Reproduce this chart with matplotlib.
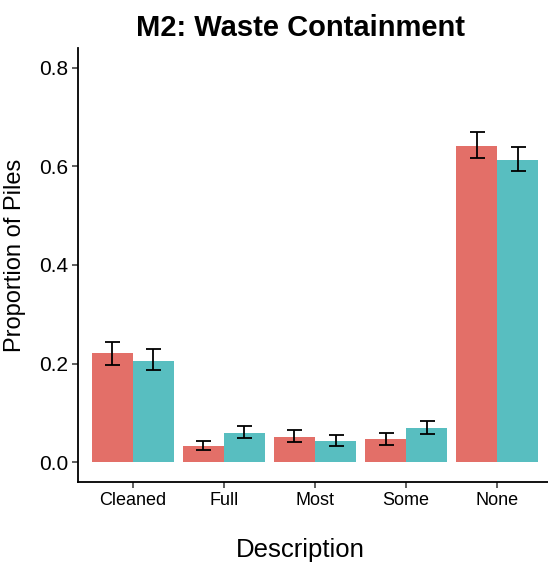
import matplotlib
matplotlib.use('Agg')
import matplotlib.pyplot as plt
import numpy as np

plt.rcParams['font.family'] = ['Liberation Sans', 'DejaVu Sans']

categories = ['Cleaned', 'Full', 'Most', 'Some', 'None']
group_a = [0.222, 0.033, 0.051, 0.047, 0.641]
group_a_lo = [0.198, 0.024, 0.041, 0.035, 0.616]
group_a_hi = [0.243, 0.043, 0.065, 0.059, 0.669]
group_b = [0.206, 0.059, 0.043, 0.069, 0.612]
group_b_lo = [0.188, 0.049, 0.033, 0.057, 0.590]
group_b_hi = [0.229, 0.073, 0.055, 0.084, 0.639]

red = '#E36F68'
teal = '#58BEC0'

fig = plt.figure(figsize=(5.48, 5.69), dpi=100)
ax = fig.add_axes([78/548, 1 - 482/569, 474/548, 434/569])

x = np.arange(1, len(categories) + 1)
width = 0.45

def draw(xpos, vals, lo, hi, color):
    vals = np.array(vals)
    yerr = [vals - np.array(lo), np.array(hi) - vals]
    ax.bar(xpos, vals, width, color=color, linewidth=0)
    ax.errorbar(xpos, vals, yerr=yerr, fmt='none', ecolor='black',
                elinewidth=1.3, capsize=5.4, capthick=1.3)

draw(x - width/2, group_a, group_a_lo, group_a_hi, red)
draw(x + width/2, group_b, group_b_lo, group_b_hi, teal)

ax.set_xlim(0.4, 5.6)
ax.set_ylim(-0.04, 0.84)
ax.set_xticks(x)
ax.set_xticklabels(categories, fontsize=13)
ax.set_yticks([0.0, 0.2, 0.4, 0.6, 0.8])
ax.set_yticklabels(['0.0', '0.2', '0.4', '0.6', '0.8'], fontsize=15)
ax.tick_params(length=4, width=1.1, color='#333333', pad=3)

for side in ['top', 'right']:
    ax.spines[side].set_visible(False)
for side in ['left', 'bottom']:
    ax.spines[side].set_linewidth(1.3)
    ax.spines[side].set_color('black')

fig.text(300/548, 1 - 36/569, 'M2: Waste Containment', fontsize=21,
         fontweight='bold', ha='center', va='baseline')
fig.text(300/548, 1 - 557/569, 'Description', fontsize=18.5,
         ha='center', va='baseline')
fig.text(15/548, 1 - 255/569, 'Proportion of Piles', fontsize=17,
         ha='center', va='center', rotation=90)

plt.savefig('out.png', dpi=100)
plt.close()
